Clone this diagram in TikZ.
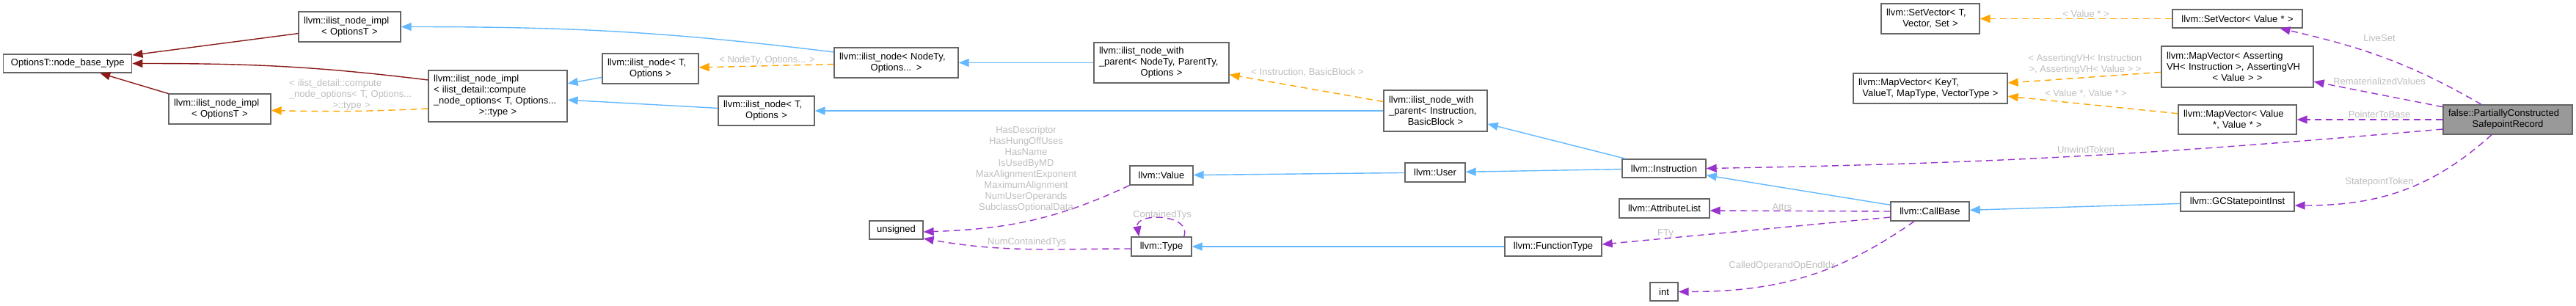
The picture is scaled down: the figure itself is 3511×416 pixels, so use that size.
\documentclass[tikz,border=0pt]{standalone}
\usepackage{fontspec}
\setmainfont{Liberation Sans}
\usepackage{tikz}
\usetikzlibrary{arrows.meta}
\definecolor{clsframe}{RGB}{102,102,102}
\definecolor{hlfill}{RGB}{153,153,153}
\definecolor{inhblue}{RGB}{99,184,255}
\definecolor{inhred}{RGB}{139,26,26}
\definecolor{tmplorange}{RGB}{255,165,0}
\definecolor{membpurple}{RGB}{154,50,205}
\definecolor{lblgray}{RGB}{190,190,190}
\newcommand{\clsfont}{\fontsize{13}{15}\selectfont}
\newcommand{\lastln}[1]{\makebox[\linewidth]{#1}}
\tikzset{
  cls/.style={rectangle, draw=clsframe, fill=white, line width=1.3pt,
    font=\clsfont, align=center, inner xsep=7pt, inner ysep=0pt},
  mcls/.style={cls, align=left},
  hcls/.style={mcls, fill=hlfill},
  boxdim/.style 2 args={text width=#1-14, minimum height=#2},
  lbl/.style={font=\clsfont, text=lblgray, align=center, inner sep=0pt},
  inh/.style={-{Triangle[length=14pt,width=11pt]}, draw=inhblue, line width=1.4pt},
  redinh/.style={-{Triangle[length=14pt,width=11pt]}, draw=inhred, line width=1.4pt},
  tmpl/.style={-{Triangle[length=14pt,width=11pt]}, draw=tmplorange, line width=1.4pt,
    dash pattern=on 9pt off 6pt},
  memb/.style={-{Triangle[length=14pt,width=11pt]}, draw=membpurple, line width=1.4pt,
    dash pattern=on 9pt off 6pt}
}

\begin{document}
\begin{tikzpicture}[x=1pt, y=-1pt]
  \useasboundingbox (0,0) rectangle (3511,416);
  % ilist bases
  \node[cls, boxdim={175}{25}] (base) at (92.3,86.5) {OptionsT::node\_base\_type};
  \node[mcls, boxdim={139}{41}] (implA) at (476.5,36.5) {llvm::ilist\_node\_impl\\\lastln{< OptionsT >}};
  \node[mcls, boxdim={139}{41}] (implB) at (299.5,148.5) {llvm::ilist\_node\_impl\\\lastln{< OptionsT >}};
  \node[mcls, boxdim={189}{70}] (implC) at (678.5,131) {llvm::ilist\_node\_impl\\< ilist\_detail::compute\\\_node\_options< T, Options...\\\lastln{>::type >}};
  \node[mcls, boxdim={131}{41}] (nodeTO1) at (886.5,93.5) {llvm::ilist\_node< T,\\\lastln{Options >}};
  \node[mcls, boxdim={131}{40}] (nodeTO2) at (1044.5,151) {llvm::ilist\_node< T,\\\lastln{Options >}};
  \node[mcls, boxdim={169}{41}] (nodeNT) at (1221.5,85.5) {llvm::ilist\_node< NodeTy,\\\lastln{Options... >}};
  \node[mcls, boxdim={184}{55}] (withNT) at (1583,85.5) {llvm::ilist\_node\_with\\\_parent< NodeTy, ParentTy,\\\lastln{Options >}};
  \node[mcls, boxdim={141}{56}] (withIB) at (1956.5,151) {llvm::ilist\_node\_with\\\_parent< Instruction,\\\lastln{BasicBlock >}};
  % value hierarchy
  \node[cls, boxdim={86}{26}] (value) at (1583,239) {llvm::Value};
  \node[cls, boxdim={73}{25}] (unsigned) at (1221.5,313.5) {unsigned};
  \node[cls, boxdim={82}{26}] (type) at (1583,336) {llvm::Type};
  \node[cls, boxdim={82}{26}] (user) at (1956,235) {llvm::User};
  \node[cls, boxdim={132}{26}] (ftype) at (2117,336) {llvm::FunctionType};
  \node[cls, boxdim={114}{25}] (instr) at (2268,229.5) {llvm::Instruction};
  \node[cls, boxdim={123}{26}] (attrs) at (2268.5,284) {llvm::AttributeList};
  \node[cls, boxdim={38}{25}] (int) at (2268,397.5) {int};
  \node[cls, boxdim={107}{26}] (callbase) at (2630.5,288) {llvm::CallBase};
  % containers
  \node[mcls, boxdim={134}{41}] (setT) at (2631,25.5) {llvm::SetVector< T,\\\lastln{Vector, Set >}};
  \node[mcls, boxdim={210}{41}] (mapK) at (2631,120.5) {llvm::MapVector< KeyT,\\\lastln{ValueT, MapType, VectorType >}};
  \node[cls, boxdim={177}{25}] (setV) at (3049.5,25.5) {llvm::SetVector< Value * >};
  \node[mcls, boxdim={207}{56}] (mapA) at (3049.5,91) {llvm::MapVector< Asserting\\VH< Instruction >, AssertingVH\\\lastln{< Value > >}};
  \node[mcls, boxdim={161}{40}] (mapV) at (3049.5,163) {llvm::MapVector< Value\\\lastln{*, Value * >}};
  \node[cls, boxdim={155}{26}] (gcs) at (3049.5,275) {llvm::GCStatepointInst};
  \node[hcls, boxdim={176}{40}] (pcsr) at (3418,163) {false::PartiallyConstructed\\\lastln{SafepointRecord}};

  % edges
  \draw[redinh] (implA) -- (base);
  \draw[redinh] ([yshift=22pt]implC.west) to[out=173,in=0] (base.east);
  \draw[redinh] (implB) -- (base);
  \draw[tmpl] ([yshift=-17pt]implC.west) to[bend left=2] ([yshift=-2pt]implB.east);
  \draw[inh] ([yshift=14.5pt]nodeNT.west) to[out=173,in=0] (implA.east);
  \draw[tmpl] (nodeNT) -- (nodeTO1);
  \draw[inh] (nodeTO1) -- (implC);
  \draw[inh] (nodeTO2) -- (implC);
  \draw[inh] (withNT) -- (nodeNT);
  \draw[tmpl] (withIB) -- (withNT);
  \draw[inh] (withIB) -- (nodeTO2);
  \draw[inh] (instr) -- (withIB);
  \draw[inh] (instr) -- (user);
  \draw[inh] (user) -- (value);
  \draw[memb] (value.south west) to[out=205,in=2] ([yshift=-2.5pt]unsigned.east);
  \draw[memb] ([yshift=-3pt]type.west) to[out=180,in=-10] ([yshift=-11.5pt]unsigned.east);
  \draw[memb] ([xshift=-11pt]type.north east) to[out=70,in=100,looseness=1.4] ([xshift=11pt]type.north west);
  \draw[inh] (ftype) -- (type);
  \draw[inh] (callbase) -- (instr);
  \draw[memb] (callbase.west) -- ([yshift=-3pt]attrs.east);
  \draw[memb] ([yshift=-8pt]callbase.west) -- ([yshift=3pt]ftype.east);
  \draw[memb] ([xshift=-21.5pt]callbase.south) to[out=215,in=0] (int.east);
  \draw[inh] (gcs) -- (callbase);
  \draw[memb] ([xshift=-36pt]pcsr.north) to[out=150,in=-13] ([xshift=58pt]setV.south);
  \draw[memb] (pcsr) -- (mapA);
  \draw[memb] (pcsr) -- (mapV);
  \draw[memb] ([yshift=-13pt]pcsr.west) to[out=185,in=1] (instr.east);
  \draw[memb] ([xshift=-22pt]pcsr.south) to[out=222,in=0] ([yshift=-5pt]gcs.east);
  \draw[tmpl] (setV) -- (setT);
  \draw[tmpl] (mapA) -- (mapK);
  \draw[tmpl] (mapV) -- (mapK);

  % edge labels
  \node[lbl, text width=170, align=left] (lCompute) at (479,129) {< ilist\_detail::compute\\\_node\_options< T, Options...\\\lastln{>::type >}};
  \node[lbl] (lNodeTy) at (1045.5,82) {< NodeTy, Options... >};
  \node[lbl] (lInstBB) at (1782,99) {< Instruction, BasicBlock >};
  \node[lbl] (lValueBits) at (1398.5,230.5) {HasDescriptor\\HasHungOffUses\\HasName\\IsUsedByMD\\MaxAlignmentExponent\\MaximumAlignment\\NumUserOperands\\SubclassOptionalData};
  \node[lbl] (lContained) at (1584,293) {ContainedTys};
  \node[lbl] (lNumContained) at (1399.6,330) {NumContainedTys};
  \node[lbl] (lAttrs) at (2429,282) {Attrs};
  \node[lbl] (lFTy) at (2270,318) {FTy};
  \node[lbl] (lCalledOp) at (2429,362) {CalledOperandOpEndIdx};
  \node[lbl] (lSetV) at (2843,19) {< Value * >};
  \node[lbl] (lMapA) at (2842,87.5) {< AssertingVH< Instruction\\>, AssertingVH< Value > >};
  \node[lbl] (lMapV) at (2843,128) {< Value *, Value * >};
  \node[lbl] (lUnwind) at (2843,204) {UnwindToken};
  \node[lbl] (lLive) at (3243,52) {LiveSet};
  \node[lbl] (lRemat) at (3243,111) {RematerializedValues};
  \node[lbl] (lPtrBase) at (3243,156) {PointerToBase};
  \node[lbl] (lStatepoint) at (3243,248) {StatepointToken};
\end{tikzpicture}
\end{document}
